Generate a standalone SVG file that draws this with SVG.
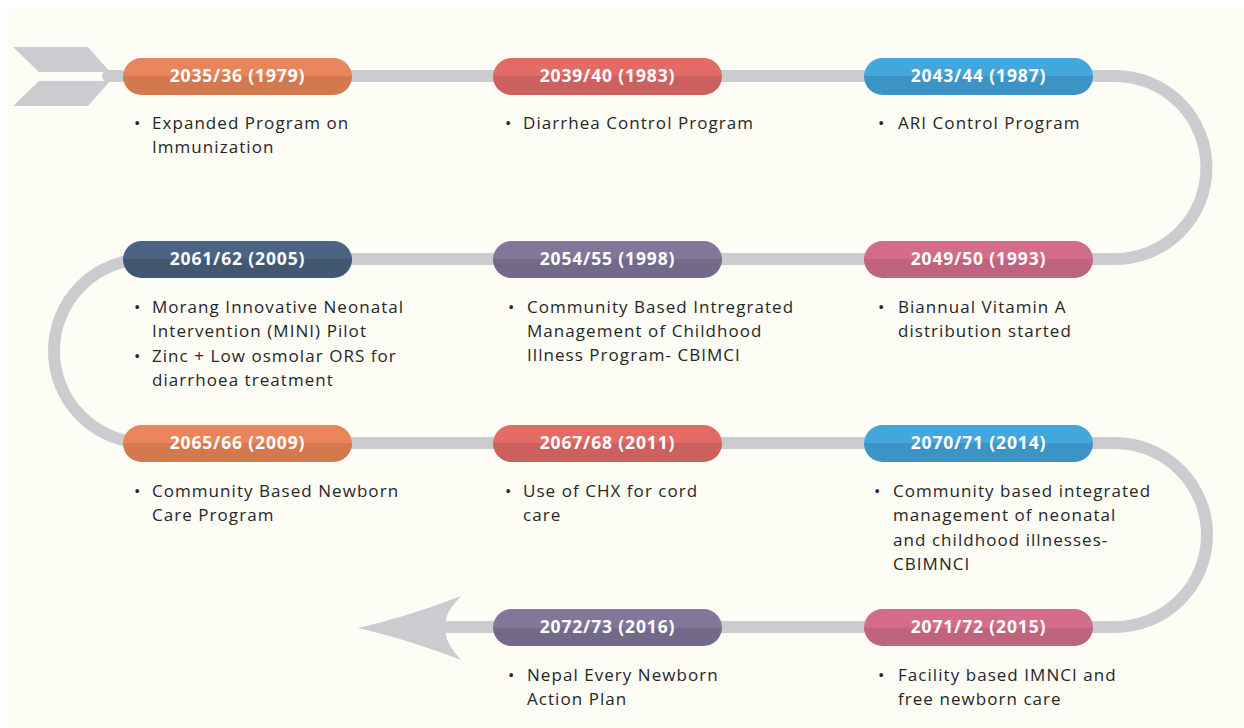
<svg xmlns="http://www.w3.org/2000/svg" width="1244" height="728" viewBox="0 0 1244 728">
<style>
.pt{font-family:"Open Sans","Liberation Sans",sans-serif;font-weight:700;font-size:17.5px;letter-spacing:0.85px;fill:#ffffff;text-anchor:middle}
.bt{font-family:"Open Sans","Liberation Sans",sans-serif;font-size:17px;letter-spacing:1.05px;fill:#262626}
.track{fill:none;stroke:#cbcccf;stroke-width:12}
.gray{fill:#cbcccf}
</style>
<defs>
<linearGradient id="gOr" x1="0" y1="0" x2="0" y2="1"><stop offset="0.5" stop-color="#e9855a"/><stop offset="0.5" stop-color="#d4784f"/></linearGradient>
<linearGradient id="gRe" x1="0" y1="0" x2="0" y2="1"><stop offset="0.5" stop-color="#e26b66"/><stop offset="0.5" stop-color="#cb605e"/></linearGradient>
<linearGradient id="gBl" x1="0" y1="0" x2="0" y2="1"><stop offset="0.5" stop-color="#45a6dc"/><stop offset="0.5" stop-color="#3b93c6"/></linearGradient>
<linearGradient id="gPk" x1="0" y1="0" x2="0" y2="1"><stop offset="0.5" stop-color="#d46c8c"/><stop offset="0.5" stop-color="#bf637e"/></linearGradient>
<linearGradient id="gPu" x1="0" y1="0" x2="0" y2="1"><stop offset="0.5" stop-color="#807799"/><stop offset="0.5" stop-color="#726a88"/></linearGradient>
<linearGradient id="gNv" x1="0" y1="0" x2="0" y2="1"><stop offset="0.5" stop-color="#4b6484"/><stop offset="0.5" stop-color="#425871"/></linearGradient>
</defs>
<rect x="0" y="0" width="1244" height="728" fill="#ffffff"/>
<rect x="7" y="10" width="1237" height="718" fill="#fdfdf6"/>

<g id="connectors">
<path class="track" stroke-linecap="round" d="M108,76 H1115 A91.5,91.5 0 0 1 1115,259 H146 A92,92 0 0 0 146,443 H1115 A92,92 0 0 1 1115,627 H448"/>
<polygon class="gray" points="13,47 88,47 110,72 39,72"/>
<polygon class="gray" points="39,81 110,81 88,106 13,106"/>
<path class="gray" d="M358,628 Q410,616 461,596 Q446,612 446,621 L446,634 Q446,643 461,660 Q410,640 358,628 Z"/>
</g>

<g id="n1"><rect x="123" y="58" width="229" height="37" rx="18.5" fill="url(#gOr)"/><text class="pt" x="237.5" y="82">2035/36 (1979)</text>
<text class="bt" y="129"><tspan x="134">•</tspan><tspan x="152">Expanded Program on</tspan><tspan x="152" dy="24">Immunization</tspan></text></g>
<g id="n2"><rect x="493" y="58" width="229" height="37" rx="18.5" fill="url(#gRe)"/><text class="pt" x="607.5" y="82">2039/40 (1983)</text>
<text class="bt" y="129"><tspan x="505">•</tspan><tspan x="523">Diarrhea Control Program</tspan></text></g>
<g id="n3"><rect x="864" y="58" width="229" height="37" rx="18.5" fill="url(#gBl)"/><text class="pt" x="978.5" y="82">2043/44 (1987)</text>
<text class="bt" y="129"><tspan x="878">•</tspan><tspan x="898">ARI Control Program</tspan></text></g>

<g id="n4"><rect x="864" y="241" width="229" height="37" rx="18.5" fill="url(#gPk)"/><text class="pt" x="978.5" y="265">2049/50 (1993)</text>
<text class="bt" y="313"><tspan x="878">•</tspan><tspan x="898">Biannual Vitamin A</tspan><tspan x="898" dy="24">distribution started</tspan></text></g>
<g id="n5"><rect x="493" y="241" width="229" height="37" rx="18.5" fill="url(#gPu)"/><text class="pt" x="607.5" y="265">2054/55 (1998)</text>
<text class="bt" y="313"><tspan x="508">•</tspan><tspan x="527">Community Based Intregrated</tspan><tspan x="527" dy="24">Management of Childhood</tspan><tspan x="527" dy="24">Illness Program- CBIMCI</tspan></text></g>
<g id="n6"><rect x="123" y="241" width="229" height="37" rx="18.5" fill="url(#gNv)"/><text class="pt" x="237.5" y="265">2061/62 (2005)</text>
<text class="bt" y="313"><tspan x="134">•</tspan><tspan x="152">Morang Innovative Neonatal</tspan><tspan x="152" dy="24">Intervention (MINI) Pilot</tspan><tspan x="134" dy="25">•</tspan><tspan x="152">Zinc + Low osmolar ORS for</tspan><tspan x="152" dy="24">diarrhoea treatment</tspan></text></g>

<g id="n7"><rect x="123" y="425" width="229" height="37" rx="18.5" fill="url(#gOr)"/><text class="pt" x="237.5" y="449">2065/66 (2009)</text>
<text class="bt" y="497"><tspan x="134">•</tspan><tspan x="152">Community Based Newborn</tspan><tspan x="152" dy="24">Care Program</tspan></text></g>
<g id="n8"><rect x="493" y="425" width="229" height="37" rx="18.5" fill="url(#gRe)"/><text class="pt" x="607.5" y="449">2067/68 (2011)</text>
<text class="bt" y="497"><tspan x="505">•</tspan><tspan x="523">Use of CHX for cord</tspan><tspan x="523" dy="24">care</tspan></text></g>
<g id="n9"><rect x="864" y="425" width="229" height="37" rx="18.5" fill="url(#gBl)"/><text class="pt" x="978.5" y="449">2070/71 (2014)</text>
<text class="bt" y="497"><tspan x="874">•</tspan><tspan x="893">Community based integrated</tspan><tspan x="893" dy="24">management of neonatal</tspan><tspan x="893" dy="25">and childhood illnesses-</tspan><tspan x="893" dy="24">CBIMNCI</tspan></text></g>

<g id="n10"><rect x="864" y="609" width="229" height="37" rx="18.5" fill="url(#gPk)"/><text class="pt" x="978.5" y="633">2071/72 (2015)</text>
<text class="bt" y="681"><tspan x="878">•</tspan><tspan x="898">Facility based IMNCI and</tspan><tspan x="898" dy="24">free newborn care</tspan></text></g>
<g id="n11"><rect x="493" y="609" width="229" height="37" rx="18.5" fill="url(#gPu)"/><text class="pt" x="607.5" y="633">2072/73 (2016)</text>
<text class="bt" y="681"><tspan x="508">•</tspan><tspan x="527">Nepal Every Newborn</tspan><tspan x="527" dy="24">Action Plan</tspan></text></g>
</svg>
